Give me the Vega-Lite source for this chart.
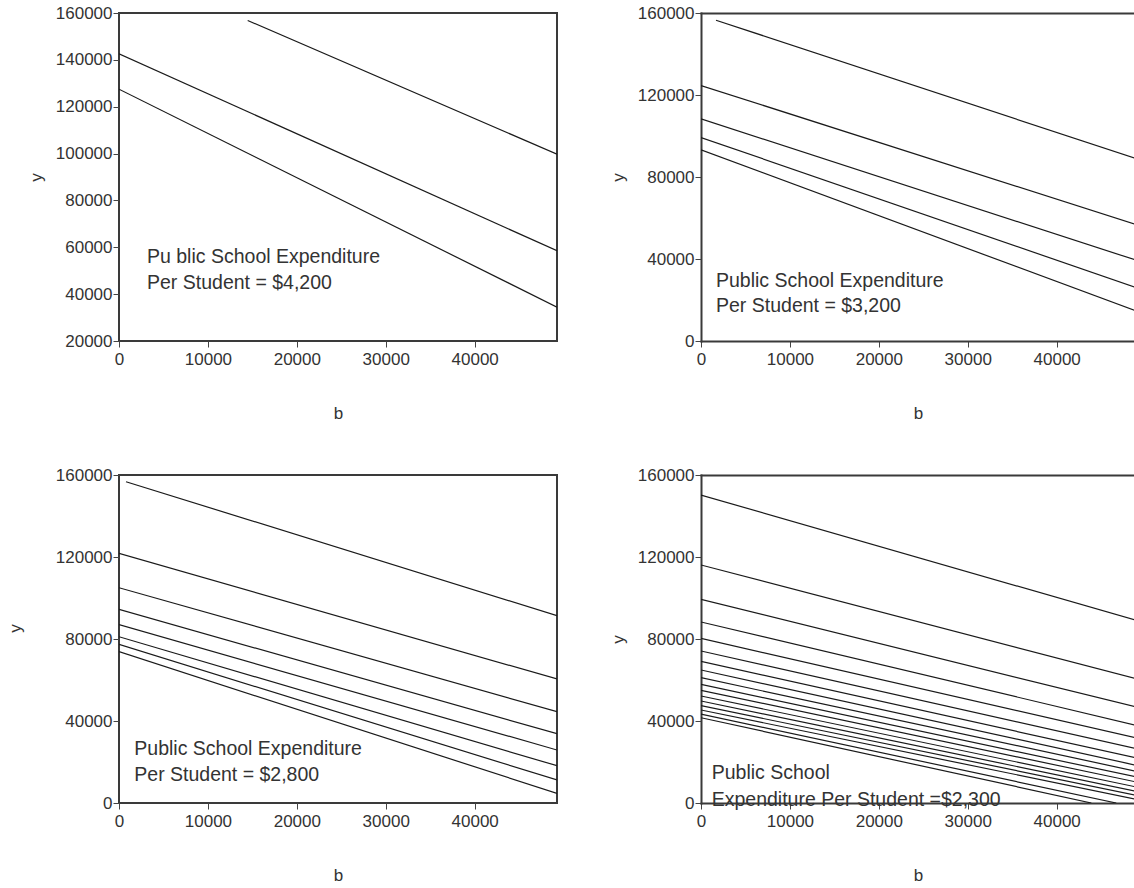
{
  "$schema": "https://vega.github.io/schema/vega-lite/v6.json",
  "padding": {"left": 5, "top": 3, "right": 0, "bottom": 0},
  "autosize": {"type": "pad"},
  "background": "white",
  "columns": 2,
  "spacing": {"row": 134, "column": 144},
  "bounds": "flush",
  "config": {
    "font": "Liberation Sans",
    "view": {"stroke": "#3a3a3a", "strokeWidth": 2},
    "axis": {
      "grid": false, "domain": false, "tickColor": "#444", "tickSize": 6, "tickWidth": 1,
      "labelFont": "Liberation Sans", "labelFontSize": 17, "labelColor": "#333",
      "titleFont": "Liberation Sans", "titleFontSize": 17, "titleFontWeight": "normal", "titleColor": "#333",
      "labelFlush": false, "labelOverlap": false, "format": "d"
    },
    "axisX": {"labelPadding": 4, "titleY": 72, "titleBaseline": "middle"},
    "axisY": {"labelPadding": 1, "titleX": -83, "titleBaseline": "middle"}
  },
  "datasets": {
    "lines1": [
      {"line": 1, "b": 14474, "y": 156800}, {"line": 1, "b": 49260, "y": 99740},
      {"line": 2, "b": 0, "y": 142590}, {"line": 2, "b": 49260, "y": 58510},
      {"line": 3, "b": 0, "y": 127480}, {"line": 3, "b": 49260, "y": 34440}
    ],
    "text1": [
      {"label": "Pu blic School Expenditure", "b": 3149, "y": 53210},
      {"label": "Per Student = $4,200", "b": 3149, "y": 42290}
    ],
    "lines2": [
      {"line": 1, "b": 1687, "y": 156490}, {"line": 1, "b": 48810, "y": 89170},
      {"line": 2, "b": 0, "y": 124630}, {"line": 2, "b": 48810, "y": 56970},
      {"line": 3, "b": 0, "y": 108390}, {"line": 3, "b": 48810, "y": 39610},
      {"line": 4, "b": 0, "y": 99270}, {"line": 4, "b": 48810, "y": 26240},
      {"line": 5, "b": 0, "y": 93270}, {"line": 5, "b": 48810, "y": 14880}
    ],
    "text2": [
      {"label": "Public School Expenditure", "b": 1687, "y": 26240},
      {"label": "Per Student = $3,200", "b": 1687, "y": 14050}
    ],
    "lines3": [
      {"line": 1, "b": 790, "y": 156730}, {"line": 1, "b": 49260, "y": 91370},
      {"line": 2, "b": 0, "y": 121750}, {"line": 2, "b": 49260, "y": 60490},
      {"line": 3, "b": 0, "y": 105020}, {"line": 3, "b": 49260, "y": 44540},
      {"line": 4, "b": 0, "y": 94430}, {"line": 4, "b": 49260, "y": 33800},
      {"line": 5, "b": 0, "y": 86980}, {"line": 5, "b": 49260, "y": 25850},
      {"line": 6, "b": 0, "y": 81120}, {"line": 6, "b": 49260, "y": 18190},
      {"line": 7, "b": 0, "y": 77370}, {"line": 7, "b": 49260, "y": 11220},
      {"line": 8, "b": 0, "y": 73810}, {"line": 8, "b": 49260, "y": 4680}
    ],
    "text3": [
      {"label": "Public School Expenditure", "b": 1720, "y": 23410},
      {"label": "Per Student = $2,800", "b": 1720, "y": 10730}
    ],
    "lines4": [
      {"line": 1, "b": 0, "y": 150240}, {"line": 1, "b": 48810, "y": 89270},
      {"line": 2, "b": 0, "y": 116100}, {"line": 2, "b": 48810, "y": 60780},
      {"line": 3, "b": 0, "y": 99320}, {"line": 3, "b": 48810, "y": 46980},
      {"line": 4, "b": 0, "y": 88290}, {"line": 4, "b": 48810, "y": 38050},
      {"line": 5, "b": 0, "y": 80290}, {"line": 5, "b": 48810, "y": 31850},
      {"line": 6, "b": 0, "y": 74150}, {"line": 6, "b": 48810, "y": 26630},
      {"line": 7, "b": 0, "y": 69070}, {"line": 7, "b": 48810, "y": 22100},
      {"line": 8, "b": 0, "y": 64880}, {"line": 8, "b": 48810, "y": 18540},
      {"line": 9, "b": 0, "y": 61120}, {"line": 9, "b": 48810, "y": 15610},
      {"line": 10, "b": 0, "y": 57850}, {"line": 10, "b": 48810, "y": 12830},
      {"line": 11, "b": 0, "y": 54930}, {"line": 11, "b": 48810, "y": 10390},
      {"line": 12, "b": 0, "y": 52190}, {"line": 12, "b": 48810, "y": 7950},
      {"line": 13, "b": 0, "y": 49760}, {"line": 13, "b": 48810, "y": 5850},
      {"line": 14, "b": 0, "y": 47460}, {"line": 14, "b": 48810, "y": 3900},
      {"line": 15, "b": 0, "y": 45370}, {"line": 15, "b": 48810, "y": 1950},
      {"line": 16, "b": 0, "y": 43400}, {"line": 16, "b": 46700, "y": 0},
      {"line": 17, "b": 0, "y": 41600}, {"line": 17, "b": 43900, "y": 0}
    ],
    "text4": [
      {"label": "Public School", "b": 1203, "y": 11710},
      {"label": "Expenditure Per Student =$2,300", "b": 1203, "y": -1320}
    ]
  },
  "concat": [
    {
      "width": 438, "height": 328,
      "layer": [
        {
          "data": {"name": "lines1"},
          "mark": {"type": "line", "color": "#1a1a1a", "strokeWidth": 1.2, "clip": true},
          "encoding": {
            "x": {"field": "b", "type": "quantitative", "scale": {"domain": [0, 49260], "nice": false, "zero": false}, "axis": {"values": [0, 10000, 20000, 30000, 40000], "title": "b"}},
            "y": {"field": "y", "type": "quantitative", "scale": {"domain": [20000, 160000], "nice": false, "zero": false}, "axis": {"values": [20000, 40000, 60000, 80000, 100000, 120000, 140000, 160000], "title": "y"}},
            "detail": {"field": "line", "type": "nominal"}
          }
        },
        {
          "data": {"name": "text1"},
          "mark": {"type": "text", "align": "left", "baseline": "alphabetic", "fontSize": 19.5, "color": "#333", "font": "Liberation Sans"},
          "encoding": {
            "x": {"field": "b", "type": "quantitative", "scale": {"domain": [0, 49260], "nice": false, "zero": false}},
            "y": {"field": "y", "type": "quantitative", "scale": {"domain": [20000, 160000], "nice": false, "zero": false}},
            "text": {"field": "label"}
          }
        }
      ]
    },
    {
      "width": 434, "height": 328,
      "view": {"stroke": null},
      "resolve": {"axis": {"x": "independent"}},
      "layer": [
        {
          "data": {"name": "lines2"},
          "mark": {"type": "line", "color": "#1a1a1a", "strokeWidth": 1.2, "clip": true},
          "encoding": {
            "x": {"field": "b", "type": "quantitative", "scale": {"domain": [0, 48810], "nice": false, "zero": false}, "axis": {"values": [0, 10000, 20000, 30000, 40000], "title": "b", "domain": true, "domainColor": "#3a3a3a", "domainWidth": 2, "domainCap": "square"}},
            "y": {"field": "y", "type": "quantitative", "scale": {"domain": [0, 160000], "nice": false, "zero": false}, "axis": {"values": [0, 40000, 80000, 120000, 160000], "title": "y", "domain": true, "domainColor": "#3a3a3a", "domainWidth": 2, "domainCap": "square"}},
            "detail": {"field": "line", "type": "nominal"}
          }
        },
        {
          "data": {"name": "text2"},
          "mark": {"type": "text", "align": "left", "baseline": "alphabetic", "fontSize": 19.5, "color": "#333", "font": "Liberation Sans"},
          "encoding": {
            "x": {"field": "b", "type": "quantitative", "scale": {"domain": [0, 48810], "nice": false, "zero": false}, "axis": {"orient": "top", "labels": false, "ticks": false, "title": null, "domain": true, "domainColor": "#3a3a3a", "domainWidth": 2, "domainCap": "square"}},
            "y": {"field": "y", "type": "quantitative", "scale": {"domain": [0, 160000], "nice": false, "zero": false}},
            "text": {"field": "label"}
          }
        }
      ]
    },
    {
      "width": 438, "height": 328,
      "layer": [
        {
          "data": {"name": "lines3"},
          "mark": {"type": "line", "color": "#1a1a1a", "strokeWidth": 1.2, "clip": true},
          "encoding": {
            "x": {"field": "b", "type": "quantitative", "scale": {"domain": [0, 49260], "nice": false, "zero": false}, "axis": {"values": [0, 10000, 20000, 30000, 40000], "title": "b"}},
            "y": {"field": "y", "type": "quantitative", "scale": {"domain": [0, 160000], "nice": false, "zero": false}, "axis": {"values": [0, 40000, 80000, 120000, 160000], "title": "y", "titleX": -104, "titleY": 153}},
            "detail": {"field": "line", "type": "nominal"}
          }
        },
        {
          "data": {"name": "text3"},
          "mark": {"type": "text", "align": "left", "baseline": "alphabetic", "fontSize": 19.5, "color": "#333", "font": "Liberation Sans"},
          "encoding": {
            "x": {"field": "b", "type": "quantitative", "scale": {"domain": [0, 49260], "nice": false, "zero": false}},
            "y": {"field": "y", "type": "quantitative", "scale": {"domain": [0, 160000], "nice": false, "zero": false}},
            "text": {"field": "label"}
          }
        }
      ]
    },
    {
      "width": 434, "height": 328,
      "view": {"stroke": null},
      "resolve": {"axis": {"x": "independent"}},
      "layer": [
        {
          "data": {"name": "lines4"},
          "mark": {"type": "line", "color": "#1a1a1a", "strokeWidth": 1.2, "clip": true},
          "encoding": {
            "x": {"field": "b", "type": "quantitative", "scale": {"domain": [0, 48810], "nice": false, "zero": false}, "axis": {"values": [0, 10000, 20000, 30000, 40000], "title": "b", "domain": true, "domainColor": "#3a3a3a", "domainWidth": 2, "domainCap": "square"}},
            "y": {"field": "y", "type": "quantitative", "scale": {"domain": [0, 160000], "nice": false, "zero": false}, "axis": {"values": [0, 40000, 80000, 120000, 160000], "title": "y", "domain": true, "domainColor": "#3a3a3a", "domainWidth": 2, "domainCap": "square"}},
            "detail": {"field": "line", "type": "nominal"}
          }
        },
        {
          "data": {"name": "text4"},
          "mark": {"type": "text", "align": "left", "baseline": "alphabetic", "fontSize": 19.5, "color": "#333", "font": "Liberation Sans"},
          "encoding": {
            "x": {"field": "b", "type": "quantitative", "scale": {"domain": [0, 48810], "nice": false, "zero": false}, "axis": {"orient": "top", "labels": false, "ticks": false, "title": null, "domain": true, "domainColor": "#3a3a3a", "domainWidth": 2, "domainCap": "square"}},
            "y": {"field": "y", "type": "quantitative", "scale": {"domain": [0, 160000], "nice": false, "zero": false}},
            "text": {"field": "label"}
          }
        }
      ]
    }
  ]
}
